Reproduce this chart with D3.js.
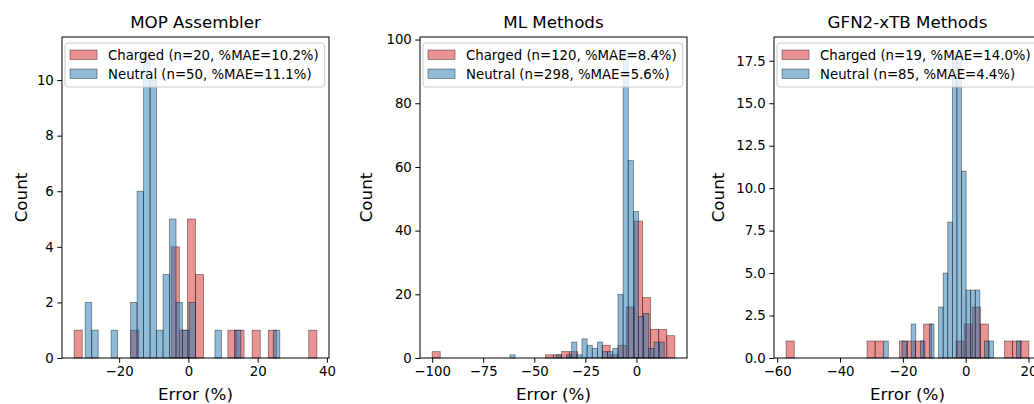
<!DOCTYPE html>
<html>
<head>
<meta charset="utf-8">
<script src="https://cdn.jsdelivr.net/npm/d3@7"></script>
<style>
  body { margin: 0; background: #fff; }
  text { font-family: "DejaVu Sans", sans-serif; fill: #000; }
</style>
</head>
<body>
<div id="chart"></div>
<script>
// panel titles and legend labels
const titles = ["MOP Assembler", "ML Methods", "GFN2-xTB Methods"];
const chargedLabels = ["Charged (n=20, %MAE=10.2%)", "Charged (n=120, %MAE=8.4%)", "Charged (n=19, %MAE=14.0%)"];
const neutralLabels = ["Neutral (n=50, %MAE=11.1%)", "Neutral (n=298, %MAE=5.6%)", "Neutral (n=85, %MAE=4.4%)"];

// min / max of each series (30 equal bins between them)
const chargedRanges = [[-33.0, 37.1], [-100.0, 18.8], [-57.15, 20.1]];
const neutralRanges = [[-29.8, 26.4], [-61.9, 13.6], [-26.1, 17.6]];

// counts per bin
const chargedCounts = [
  [1,0,0,0,0,0,0,1,0,0,0,0,4,1,5,3,0,0,0,1,1,0,1,0,1,0,0,0,0,1],
  [2,0,0,0,0,0,0,0,0,0,0,0,0,0,1,1,2,2,0,0,0,4,1,4,16,43,19,9,9,7],
  [1,0,0,0,0,0,0,0,0,0,1,1,0,0,1,1,1,2,0,0,0,1,2,3,2,0,0,1,1,1]
];
const neutralCounts = [
  [2,1,0,0,1,0,0,2,6,11,10,1,3,5,2,1,2,0,0,0,1,0,0,1,0,0,0,0,0,1],
  [1,0,0,0,0,0,0,0,0,1,0,1,5,1,6,4,3,5,2,2,3,20,96,62,46,13,14,3,5,5],
  [1,0,0,0,1,0,2,0,1,0,2,0,3,5,8,18,18,11,4,4,4,0,1,1,0,0,0,0,0,1]
];

const xTicks = [[-20, 0, 20, 40], [-100, -75, -50, -25, 0], [-60, -40, -20, 0, 20]];
const yTicks = [[0, 2, 4, 6, 8, 10], [0, 20, 40, 60, 80, 100], [0, 2.5, 5, 7.5, 10, 12.5, 15, 17.5]];

let w = 1034;
let h = 404;
let axLeft = [62, 420, 774];
let axW = 267;
let axTop = 37;
let axBottom = 358;
let nBins = 30;

let red = "#d62728";
let blue = "#1f77b4";

let svg = d3.select("#chart").append("svg")
  .attr("width", w)
  .attr("height", h)
  .style("display", "block");

function fmtTick(v, dec) {
  let s = dec ? d3.format(".1f")(v) : String(v);
  return s.replace("-", "\u2212");
}

function binsFrom(range, counts) {
  let step = (range[1] - range[0]) / nBins;
  return counts.map((c, i) => ({x0: range[0] + i * step, x1: range[0] + (i + 1) * step, c: c}));
}

titles.forEach((title, p) => {
  let left = axLeft[p];
  let g = svg.append("g");

  let redBins = binsFrom(chargedRanges[p], chargedCounts[p]);
  let blueBins = binsFrom(neutralRanges[p], neutralCounts[p]);

  // x domain = data range with 5% margin
  let lo = Math.min(chargedRanges[p][0], neutralRanges[p][0]);
  let hi = Math.max(chargedRanges[p][1], neutralRanges[p][1]);
  let m = (hi - lo) * 0.05;
  let xScale = d3.scaleLinear().domain([lo - m, hi + m]).range([left, left + axW]);

  let yMax = d3.max(chargedCounts[p].concat(neutralCounts[p])) * 1.05;
  let yScale = d3.scaleLinear().domain([0, yMax]).range([axBottom, axTop]);

  // bars: charged first, neutral on top
  [[redBins, red], [blueBins, blue]].forEach(([bins, col]) => {
    g.selectAll(null).data(bins.filter(d => d.c > 0)).enter()
      .append("rect")
      .attr("x", d => xScale(d.x0))
      .attr("y", d => yScale(d.c))
      .attr("width", d => xScale(d.x1) - xScale(d.x0))
      .attr("height", d => yScale(0) - yScale(d.c))
      .attr("fill", col)
      .attr("fill-opacity", 0.5)
      .attr("stroke", "#000")
      .attr("stroke-opacity", 0.5)
      .attr("stroke-width", 0.75);
  });

  // axes
  let xAxis = d3.axisBottom(xScale).tickValues(xTicks[p]).tickSize(4.7).tickPadding(3.5)
    .tickFormat(v => fmtTick(v, false));
  let xg = g.append("g").attr("transform", "translate(0," + axBottom + ")").call(xAxis);
  let dec = p == 2;
  let yAxis = d3.axisLeft(yScale).tickValues(yTicks[p]).tickSize(4.7).tickPadding(3.5)
    .tickFormat(v => fmtTick(v, dec));
  let yg = g.append("g").attr("transform", "translate(" + left + ",0)").call(yAxis);
  [xg, yg].forEach(a => {
    a.select(".domain").remove();
    a.selectAll("line").attr("stroke", "#000").attr("stroke-width", 1);
    a.selectAll("text").style("font-size", "13.3px").style("font-family", "DejaVu Sans, sans-serif").attr("fill", "#000");
  });

  // spines
  g.append("rect")
    .attr("x", left).attr("y", axTop)
    .attr("width", axW).attr("height", axBottom - axTop)
    .attr("fill", "none").attr("stroke", "#000").attr("stroke-width", 1);

  // title and axis labels
  g.append("text").text(title)
    .attr("x", left + axW / 2).attr("y", 28)
    .attr("text-anchor", "middle").style("font-size", "16.7px");
  g.append("text").text("Error (%)")
    .attr("x", left + axW / 2).attr("y", 400)
    .attr("text-anchor", "middle").style("font-size", "16.7px");
  let ylx = [27, 372, 724][p];
  g.append("text").text("Count")
    .attr("transform", "translate(" + ylx + "," + ((axTop + axBottom) / 2) + ") rotate(-90)")
    .attr("text-anchor", "middle").style("font-size", "16.7px");

  // legend
  let lg = g.append("g").attr("transform", "translate(" + (left + 3) + "," + (axTop + 6) + ")");
  let box = lg.append("rect")
    .attr("rx", 3).attr("ry", 3)
    .attr("fill", "#fff").attr("fill-opacity", 0.8)
    .attr("stroke", "#ccc").attr("stroke-width", 1);
  let items = [[chargedLabels[p], red], [neutralLabels[p], blue]];
  let maxLen = 0;
  items.forEach(([lab, col], i) => {
    let yy = 7 + i * 19;
    lg.append("rect")
      .attr("x", 5).attr("y", yy)
      .attr("width", 27).attr("height", 9.5)
      .attr("fill", col).attr("fill-opacity", 0.5)
      .attr("stroke", "#000").attr("stroke-opacity", 0.5).attr("stroke-width", 0.75);
    let t = lg.append("text").text(lab)
      .attr("x", 43).attr("y", yy + 9.5)
      .style("font-size", "13.3px");
    maxLen = Math.max(maxLen, t.node().getComputedTextLength());
  });
  box.attr("x", 0).attr("y", 0).attr("width", 43 + maxLen + 6).attr("height", 44);
});
</script>
</body>
</html>
